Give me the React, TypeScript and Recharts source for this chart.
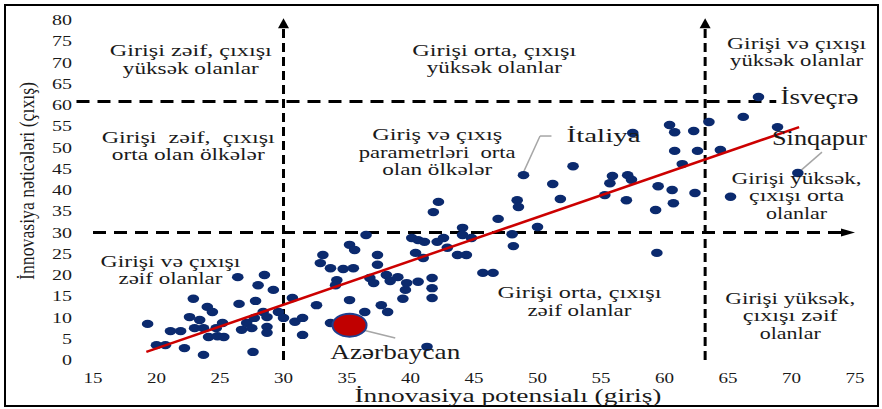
import { ScatterChart, Scatter, XAxis, YAxis, ReferenceLine, ReferenceDot } from "recharts";

// innovation potential (input) and innovation results (output), one entry per country
const inputScore = [
  19.3, 20.0, 20.7, 21.1, 21.9, 22.2, 22.6, 22.9, 23.0, 23.4,
  23.7, 23.7, 24.0, 24.1, 24.4, 24.7, 24.8, 25.2, 25.3, 26.4,
  26.5, 26.7, 27.1, 27.5, 27.6, 27.8, 27.7, 28.0, 28.5, 28.4,
  28.7, 28.7, 28.7, 29.2, 29.6, 30.0, 30.7, 30.9, 31.5, 31.5,
  32.6, 33.1, 32.9, 33.7, 33.7, 34.2, 34.1, 34.7, 35.2, 35.6,
  35.2, 35.5, 36.5, 36.4, 36.8, 37.1, 37.4, 37.4, 37.7, 38.2,
  38.1, 38.4, 39.0, 39.6, 39.4, 39.7, 40.1, 40.4, 40.6, 40.6,
  41.0, 41.1, 41.3, 41.7, 41.7, 41.7, 41.8, 42.2, 42.1, 42.6,
  42.9, 43.7, 44.4, 44.1, 44.1, 44.8, 45.7, 46.5, 46.9, 48.0,
  48.1, 48.4, 48.5, 50.0, 48.9, 51.2, 51.8, 52.8,
  55.3, 55.7, 55.9, 57.0, 57.1, 57.4, 57.5, 59.3, 59.5, 59.4,
  60.6, 60.7, 60.4, 60.8, 60.8, 61.4, 62.3, 62.4, 62.6, 63.5,
  64.4, 65.2, 66.2, 67.4, 68.9, 70.5,
];
const outputScore = [
  8.5, 3.5, 3.5, 6.8, 6.8, 2.8, 10.1, 14.4, 7.5, 9.4,
  7.5, 1.2, 12.5, 5.4, 11.3, 7.5, 5.6, 8.7, 5.4, 19.5,
  13.2, 7.1, 8.7, 7.5, 1.9, 13.9, 9.9, 17.6, 20.0, 11.3,
  10.1, 7.8, 6.4, 16.5, 11.3, 9.9, 14.6, 9.0, 9.9, 5.9,
  12.9, 24.7, 22.8, 21.6, 8.7, 18.8, 17.6, 21.4, 27.1, 25.9,
  14.1, 21.6, 29.4, 11.3, 19.3, 18.1, 24.7, 22.4, 12.9, 11.3,
  20.0, 18.6, 19.5, 16.5, 14.4, 18.1, 28.7, 25.2, 18.4, 28.2,
  24.0, 27.8, 3.1, 19.3, 16.9, 14.6, 34.8, 37.2, 27.8, 28.7,
  26.4, 24.7, 24.7, 31.1, 29.4, 28.7, 20.5, 20.5, 33.2, 29.6,
  26.8, 37.6, 36.0, 31.3, 43.5, 41.4, 37.9, 45.6,
  38.8, 41.6, 43.3, 37.6, 43.5, 42.4, 53.4, 35.3, 40.9, 25.2,
  40.0, 36.9, 55.3, 53.6, 49.2, 46.1, 53.9, 39.3, 49.2, 56.0,
  49.4, 38.4, 57.2, 61.9, 54.8, 44.0,
];

const highlightInput = [35.2];
const highlightOutput = [8.2];

// fitted trend, read at its two ends
const trendInput = [19.2, 70.6];
const trendOutput = [1.9, 54.8];

const xTicks = [15, 20, 25, 30, 35, 40, 45, 50, 55, 60, 65, 70, 75];
const yTicks = [0, 5, 10, 15, 20, 25, 30, 35, 40, 45, 50, 55, 60, 65, 70, 75, 80];

const points = inputScore.map((x, i) => ({ x, y: outputScore[i] }));
const highlight = highlightInput.map((x, i) => ({ x, y: highlightOutput[i] }));
const trend = trendInput.map((x, i) => ({ x, y: trendOutput[i] }));

const serif = '"Liberation Serif", "Times New Roman", serif';
const ink = "#1a1a1a";

// quadrant captions and country names (placed in data units)
const notes = [
  { x: 22.7, y: 70.7, lines: ["Girişi zəif, çıxışı", "yüksək olanlar"], widths: [162, 136] },
  { x: 22.5, y: 50.4, lines: ["Girişi  zəif,  çıxışı", "orta olan ölkələr"], widths: [173, 153] },
  { x: 21.1, y: 21.2, lines: ["Girişi və çıxışı", "zəif olanlar"], widths: [140, 104] },
  { x: 46.6, y: 70.8, lines: ["Girişi orta, çıxışı", "yüksək olanlar"], widths: [164, 135] },
  { x: 42.1, y: 48.9, lines: ["Giriş və çıxış", "parametrləri  orta", "olan ölkələr"], widths: [130, 157, 110] },
  { x: 70.4, y: 72.5, lines: ["Girişi və çıxışı", "yüksək olanlar"], widths: [139, 133] },
  { x: 70.4, y: 38.7, lines: ["Girişi yüksək,", "çıxışı orta", "olanlar"], widths: [130, 95, 61] },
  { x: 53.3, y: 13.8, lines: ["Girişi orta, çıxışı", "zəif olanlar"], widths: [164, 104] },
  { x: 69.9, y: 10.4, lines: ["Girişi yüksək,", "çıxışı zəif", "olanlar"], widths: [130, 95, 61] },
  { x: 55.2, y: 52.9, lines: ["İtaliya"], widths: [74], size: 19 },
  { x: 72.2, y: 61.9, lines: ["İsveçrə"], widths: [78], size: 20 },
  { x: 72.2, y: 52.2, lines: ["Sinqapur"], widths: [95], size: 20 },
  { x: 38.8, y: 1.9, lines: ["Azərbaycan"], widths: [130], size: 21 },
];

const leaders = [
  [{ x: 48.9, y: 44.2 }, { x: 50.2, y: 52.7 }],
  [{ x: 50.2, y: 52.7 }, { x: 51.1, y: 52.7 }],
  [{ x: 72.4, y: 48.9 }, { x: 70.7, y: 44.5 }],
  [{ x: 35.2, y: 7.8 }, { x: 38.8, y: 5.2 }],
];

const arrowLine = (dash: string, len: number, half: number, arrow: boolean) => (p: any) => {
  const { x1, y1, x2, y2 } = p;
  const d = Math.hypot(x2 - x1, y2 - y1) || 1;
  const ux = (x2 - x1) / d;
  const uy = (y2 - y1) / d;
  const bx = arrow ? x2 - ux * len : x2;
  const by = arrow ? y2 - uy * len : y2;
  return (
    <g>
      <line x1={x1} y1={y1} x2={bx} y2={by} stroke="#000" strokeWidth={3} strokeDasharray={dash} />
      {arrow && (
        <polygon
          points={`${x2},${y2} ${bx - uy * half},${by + ux * half} ${bx + uy * half},${by - ux * half}`}
          fill="#000"
        />
      )}
    </g>
  );
};

const Note = ({ cx, cy, note }: any) => {
  const size = note.size ?? 17;
  const gap = 17.5;
  return (
    <g>
      {note.lines.map((t: string, i: number) => (
        <text
          key={i}
          x={cx}
          y={cy + (i - (note.lines.length - 1) / 2) * gap}
          textAnchor="middle"
          dominantBaseline="central"
          fontSize={size}
          fontFamily={serif}
          fill={ink}
          textLength={note.widths[i]}
          lengthAdjust="spacingAndGlyphs"
          style={{ whiteSpace: "pre" }}
        >
          {t}
        </text>
      ))}
    </g>
  );
};

const XTick = (p: any) => {
  const s = String(p.payload.value);
  return (
    <text x={p.x} y={p.y + 11} textAnchor="middle" fontSize={14.5} fontFamily={serif} fill={ink}
      textLength={s.length * 9.5} lengthAdjust="spacingAndGlyphs">
      {s}
    </text>
  );
};

const YTick = (p: any) => {
  const s = String(p.payload.value);
  return (
    <text x={p.x} y={p.y + 5} textAnchor="end" fontSize={14.5} fontFamily={serif} fill={ink}
      textLength={s.length * 10} lengthAdjust="spacingAndGlyphs">
      {s}
    </text>
  );
};

const Dot = (p: any) => <ellipse cx={p.cx} cy={p.cy} rx={5.8} ry={4.2} fill="#0b2a6e" />;
const BigDot = (p: any) => (
  <ellipse cx={p.cx} cy={p.cy} rx={17} ry={11.5} fill="#c00000" stroke="#1f3f8f" strokeWidth={2} />
);

const App = () => {
  return (
    <div style={{ position: "absolute", left: 0, top: 0, width: 882, height: 409, background: "#fff" }}>
      <ScatterChart width={882} height={409} margin={{ top: 20, right: 27, bottom: 0, left: 0 }}>
        <XAxis
          type="number"
          dataKey="x"
          domain={[15, 75]}
          ticks={xTicks}
          interval={0}
          axisLine={false}
          tickLine={false}
          tickSize={0}
          tickMargin={12}
          height={49}
          tick={XTick}
        />
        <YAxis
          type="number"
          dataKey="y"
          domain={[0, 80]}
          ticks={yTicks}
          interval={0}
          axisLine={false}
          tickLine={false}
          tickSize={0}
          tickMargin={21}
          width={93}
          tick={YTick}
        />
        <ReferenceLine segment={[{ x: 13.7, y: 60.8 }, { x: 68.8, y: 60.8 }]} ifOverflow="visible" shape={arrowLine("13 8", 0, 0, false)} />
        <ReferenceLine segment={[{ x: 15, y: 30 }, { x: 75, y: 30 }]} ifOverflow="visible" shape={arrowLine("13 8", 14, 4, true)} />
        <ReferenceLine segment={[{ x: 30, y: 0 }, { x: 30, y: 80.4 }]} ifOverflow="visible" shape={arrowLine("9 5", 10, 5.5, true)} />
        <ReferenceLine segment={[{ x: 63.2, y: 0 }, { x: 63.2, y: 80.4 }]} ifOverflow="visible" shape={arrowLine("9 5", 10, 5.5, true)} />
        {leaders.map((seg, i) => (
          <ReferenceLine key={`l${i}`} segment={seg} ifOverflow="visible" stroke="#a6a6a6" strokeWidth={1.5} />
        ))}
        <Scatter data={points} shape={Dot} isAnimationActive={false} />
        <Scatter
          data={trend}
          shape={() => <g />}
          line={{ stroke: "#cc0000", strokeWidth: 2.5 }}
          isAnimationActive={false}
        />
        <Scatter data={highlight} shape={BigDot} isAnimationActive={false} />
        {notes.map((n, i) => (
          <ReferenceDot
            key={`n${i}`}
            x={n.x}
            y={n.y}
            r={0}
            ifOverflow="visible"
            shape={(p: any) => <Note cx={p.cx} cy={p.cy} note={n} />}
          />
        ))}
      </ScatterChart>
      <svg width={882} height={409} style={{ position: "absolute", left: 0, top: 0, pointerEvents: "none" }}>
        <rect x={5} y={5} width={873} height={401} fill="none" stroke="#000" strokeWidth={2} />
        <text x={508} y={402} textAnchor="middle" fontSize={19} fontFamily={serif} fill={ink}
          textLength={307} lengthAdjust="spacingAndGlyphs">
          İnnovasiya potensialı (giriş)
        </text>
        <text transform="translate(34,181) rotate(-90)" textAnchor="middle" fontSize={22} fontFamily={serif} fill={ink}
          textLength={198} lengthAdjust="spacingAndGlyphs">
          İnnovasiya nəticələri (çıxış)
        </text>
      </svg>
    </div>
  );
};

export default App;
